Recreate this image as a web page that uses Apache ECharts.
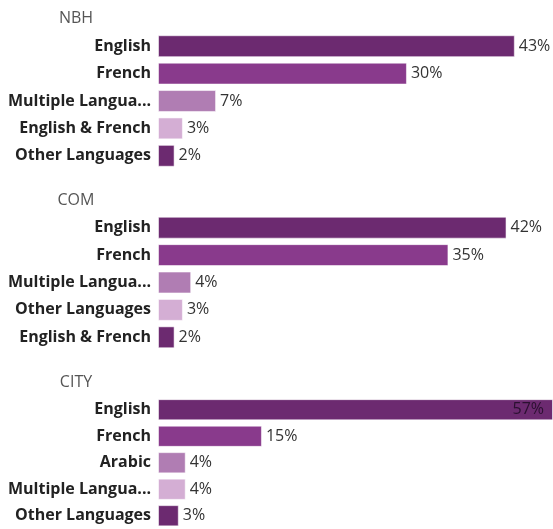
<!DOCTYPE html>
<html>
<head>
<meta charset="utf-8">
<script src="https://cdn.jsdelivr.net/npm/echarts@6/dist/echarts.min.js"></script>
<style>
html,body{margin:0;padding:0;background:#fff;}
#chart{width:553px;height:529px;}
</style>
</head>
<body>
<div id="chart"></div>
<script>
// Data
var groupTitles = ['NBH', 'COM', 'CITY'];
var nbhCategories = ['English', 'French', 'Multiple Languages', 'English & French', 'Other Languages'];
var nbhValues = [43, 30, 7, 3, 2];
var comCategories = ['English', 'French', 'Multiple Languages', 'Other Languages', 'English & French'];
var comValues = [42, 35, 4, 3, 2];
var cityCategories = ['English', 'French', 'Arabic', 'Multiple Languages', 'Other Languages'];
var cityValues = [57, 15, 4, 4, 3];

// Value-axis extent of each panel
var axisMaxes = [47.6, 47.6, 57];

var palette = ['#6c2a70', '#893a8c', '#b07db3', '#d4aed4', '#6c2a70'];
var FONT = '"Open Sans", "Noto Sans", sans-serif';

var groups = [
  {cats: nbhCategories, vals: nbhValues},
  {cats: comCategories, vals: comValues},
  {cats: cityCategories, vals: cityValues}
];
var tops = [32.5, 214, 396.5];
var titleTops = [10, 192, 374];

var grids = [], xAxes = [], yAxes = [], series = [], titles = [];
groups.forEach(function (g, i) {
  var axisMax = axisMaxes[i];
  grids.push({left: 158, right: 0, top: tops[i], height: 137, containLabel: false});
  xAxes.push({type: 'value', gridIndex: i, min: 0, max: axisMax, show: false});
  yAxes.push({
    type: 'category', gridIndex: i, data: g.cats, inverse: true,
    axisLine: {show: false}, axisTick: {show: false},
    axisLabel: {
      fontFamily: FONT, fontSize: 16, fontWeight: 'bold', color: '#222',
      margin: 7, width: 147, overflow: 'truncate', ellipsis: '...'
    }
  });
  titles.push({
    text: groupTitles[i], left: 76, top: titleTops[i], textAlign: 'center', padding: 0,
    textStyle: {fontFamily: FONT, fontSize: 16, fontWeight: 'normal', color: '#555'}
  });
  series.push({
    type: 'bar', xAxisIndex: i, yAxisIndex: i,
    barCategoryGap: '20%', clip: true,
    data: g.vals.map(function (v, j) {
      var d = {value: v, itemStyle: {color: palette[j]}};
      if (v >= axisMax) {
        d.label = {position: 'insideRight', distance: 9, color: '#2a1030'};
      }
      return d;
    }),
    itemStyle: {borderColor: 'rgba(255,255,255,0.55)', borderWidth: 1},
    label: {
      show: true, position: 'right', distance: 4,
      fontFamily: FONT, fontSize: 16, color: '#333',
      formatter: '{c}%'
    },
    silent: true
  });
});

var chart = echarts.init(document.getElementById('chart'), null, {renderer: 'canvas'});
chart.setOption({
  animation: false,
  title: titles,
  grid: grids,
  xAxis: xAxes,
  yAxis: yAxes,
  series: series
});
</script>
</body>
</html>
